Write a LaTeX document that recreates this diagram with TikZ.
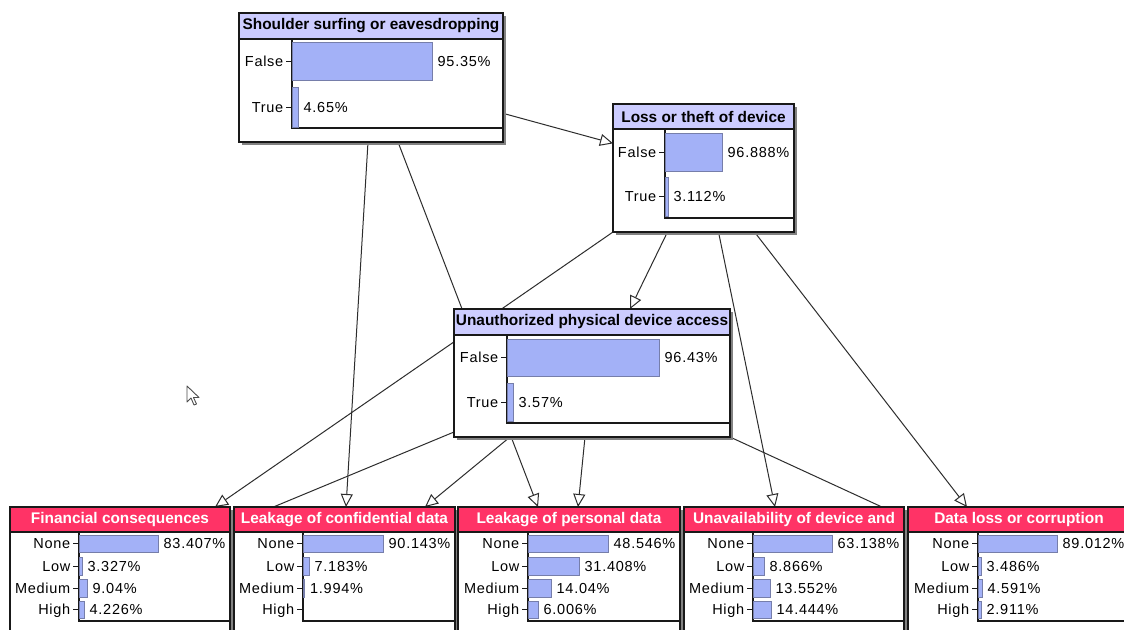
\documentclass[tikz,border=0pt]{standalone}
\usepackage{fontspec}
\setmainfont{Liberation Sans}
\newfontfamily\statefont[LetterSpace=5]{Liberation Sans}
\usetikzlibrary{arrows.meta,calc}

\definecolor{lav}{RGB}{204,204,255}
\definecolor{hdrred}{RGB}{255,51,102}
\definecolor{barfill}{RGB}{163,177,247}
\definecolor{baredge}{RGB}{118,126,170}
\definecolor{edgecol}{RGB}{45,45,45}
\definecolor{nodeline}{RGB}{25,25,25}
\definecolor{shadowcol}{RGB}{130,130,130}

\pgfdeclarelayer{bg}
\pgfdeclarelayer{edges}
\pgfsetlayers{bg,edges,main}

\tikzset{
  box/.style={draw=nodeline, line width=1.2pt, fill=white, anchor=north west,
    inner sep=0pt, outer sep=0pt},
  ttl/.style={font=\bfseries\fontsize{15.4}{17}\selectfont, inner sep=0pt},
  lbl/.style={font=\statefont\fontsize{14.5}{16}\selectfont, inner sep=0pt,
    text height=10.4pt, text depth=0pt},
  bar/.style={fill=barfill, draw=baredge, line width=0.9pt},
  axisline/.style={draw=nodeline, line width=1.1pt},
  tickline/.style={draw=nodeline, line width=0.9pt},
  edge/.style={draw=edgecol, line width=1pt,
    -{Triangle[length=13pt,width=12pt,fill=white,line width=1pt]}},
}

% a node box with its drop shadow: name, x, y, width, height
\newcommand\netbox[5]{%
  \fill[shadowcol] (#2+2.5,#3+2.5) rectangle ++(#4,#5);
  \node[box,minimum width=#4pt,minimum height=#5pt] (#1) at (#2,#3) {};}

% title band: node, band height, band colour, text colour, title
\newcommand\bandtitle[5]{%
  \filldraw[fill=#3,draw=nodeline,line width=1.2pt]
    (#1.north west) rectangle ($(#1.north east)+(0,#2)$);
  \node[ttl,text=#4] (#1-t) at ($(#1.north)+(0,#2/2)$) {#5};}

% chart axes: axis x, top y, bottom y, right x
\newcommand\chartaxes[4]{%
  \draw[axisline] (#1,#2) -- (#1,#3) -- (#4,#3);}

% one state: name, axis x, bar top, bar bottom, bar length, label, value
\newcommand\staterow[7]{%
  \draw[tickline] (#2-6,{(#3+#4)/2}) -- (#2,{(#3+#4)/2});
  \node[lbl,anchor=east] (#1-l) at (#2-8.5,{(#3+#4)/2}) {#6};
  \draw[bar] (#2,#3) rectangle (#2+#5,#4);
  \node[lbl,anchor=west] (#1-p) at (#2+#5+5.5,{(#3+#4)/2}) {#7};}

% a state with no bar and no value: name, axis x, top, bottom, label
\newcommand\emptyrow[5]{%
  \draw[tickline] (#2-6,{(#3+#4)/2}) -- (#2,{(#3+#4)/2});
  \node[lbl,anchor=east] (#1-l) at (#2-8.5,{(#3+#4)/2}) {#5};}

% four-state outcome node: name, x, width, axis x, title
\newcommand\outcome[5]{%
  \netbox{#1}{#2}{507}{#3}{160}
  \bandtitle{#1}{25}{hdrred}{white}{#5}
  \chartaxes{#4}{532}{621}{#2+#3}}

\begin{document}
\begin{tikzpicture}[x=1pt,y=-1pt]
\useasboundingbox (0,0) rectangle (1124,629);
\begin{pgfonlayer}{bg}
  \fill[white] (0,0) rectangle (1124,629);
\end{pgfonlayer}
\clip (0,0) rectangle (1124,629);

% ---- root causes ----
\netbox{S}{239}{13}{264}{129}
\bandtitle{S}{26}{lav}{black}{Shoulder surfing or eavesdropping}
\chartaxes{292}{39}{128}{503}
\staterow{S-1}{292}{42}{80}{140}{False}{95.35\%}
\staterow{S-2}{292}{87}{127}{6}{True}{4.65\%}

\netbox{L}{613}{104}{181}{128}
\bandtitle{L}{25}{lav}{black}{Loss or theft of device}
\chartaxes{665}{129}{218}{794}
\staterow{L-1}{665}{133}{171}{57}{False}{96.888\%}
\staterow{L-2}{665}{177}{216}{3}{True}{3.112\%}

\netbox{U}{454}{309}{276}{128}
\bandtitle{U}{26}{lav}{black}{Unauthorized physical device access}
\chartaxes{507}{335}{423}{730}
\staterow{U-1}{507}{339}{376}{152}{False}{96.43\%}
\staterow{U-2}{507}{383}{421}{6}{True}{3.57\%}

% ---- consequences ----
\outcome{F}{10}{220}{79}{Financial consequences}
\staterow{F-1}{79}{535}{552}{79}{None}{83.407\%}
\staterow{F-2}{79}{557}{575}{3}{Low}{3.327\%}
\staterow{F-3}{79}{579}{597}{8}{Medium}{9.04\%}
\staterow{F-4}{79}{601}{618}{5}{High}{4.226\%}

\outcome{C}{234}{221}{303}{Leakage of confidential data}
\staterow{C-1}{303}{535}{552}{80}{None}{90.143\%}
\staterow{C-2}{303}{557}{575}{6}{Low}{7.183\%}
\staterow{C-3}{303}{579}{597}{1.5}{Medium}{1.994\%}
\emptyrow{C-4}{303}{601}{618}{High}

\outcome{P}{458}{222}{528}{Leakage of personal data}
\staterow{P-1}{528}{535}{552}{80}{None}{48.546\%}
\staterow{P-2}{528}{557}{575}{51}{Low}{31.408\%}
\staterow{P-3}{528}{579}{597}{23}{Medium}{14.04\%}
\staterow{P-4}{528}{601}{618}{10}{High}{6.006\%}

\outcome{V}{684}{220}{753}{Unavailability of device and}
\staterow{V-1}{753}{535}{552}{79}{None}{63.138\%}
\staterow{V-2}{753}{557}{575}{11}{Low}{8.866\%}
\staterow{V-3}{753}{579}{597}{17}{Medium}{13.552\%}
\staterow{V-4}{753}{601}{618}{18}{High}{14.444\%}

\outcome{D}{908}{222}{978}{Data loss or corruption}
\staterow{D-1}{978}{535}{552}{79}{None}{89.012\%}
\staterow{D-2}{978}{557}{575}{3}{Low}{3.486\%}
\staterow{D-3}{978}{579}{597}{4}{Medium}{4.591\%}
\staterow{D-4}{978}{601}{618}{3}{High}{2.911\%}

% ---- influences (drawn beneath the nodes) ----
\begin{pgfonlayer}{edges}
  \draw[edge] (S) -- (L);
  \draw[edge] ($(S.south)+(-3,0)$) -- ($(C.north)+(1.5,0)$);
  \draw[edge] ($(S.south)+(27,0)$) -- ($(P.north)+(-31,0)$);
  \draw[edge] ($(L.south)+(-36,0)$) -- ($(U.north)+(38,0)$);
  \draw[edge] (L.south west) -- ($(F.north)+(95,0)$);
  \draw[edge] ($(L.south)+(15,0)$) -- ($(V.north)+(-19,0)$);
  \draw[edge] ($(L.south)+(51,0)$) -- ($(D.north)+(-52,0)$);
  \draw[edge] ($(U.south west)+(0,-5)$) -- ($(F.north east)+(0,18)$);
  \draw[edge] ($(U.south west)+(56,0)$) -- ($(C.north)+(80.5,0)$);
  \draw[edge] ($(U.south)+(-7,0)$) -- ($(P.north)+(9,0)$);
  \draw[edge] (U.south east) -- ($(D.north west)+(0,12)$);
\end{pgfonlayer}

% ---- mouse pointer ----
\filldraw[fill=white, draw=black!70, line width=0.9pt, line join=round]
  (187,386) -- (187,402) -- (191,398) -- (194,405) -- (196.5,404)
  -- (193.5,397.5) -- (199,397.5) -- cycle;
\end{tikzpicture}
\end{document}
